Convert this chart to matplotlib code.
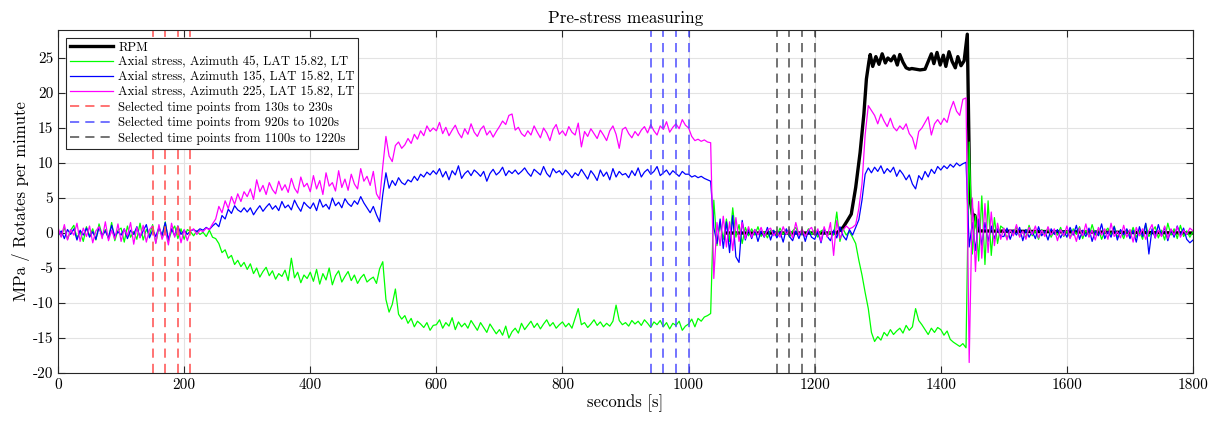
import numpy as np
import matplotlib
matplotlib.use("Agg")
import matplotlib.pyplot as plt

plt.rcParams['font.family'] = ['cmr10', 'DejaVu Serif']
plt.rcParams['axes.unicode_minus'] = False
plt.rcParams['mathtext.fontset'] = 'cm'

## sample times (5 s step) for the three stress channels
t = np.arange(0, 1805, 5)

## Axial stress, Azimuth 45
g = [
    0.3,-0.5,0.8,-0.9,0.4,1.1,-0.7,0.2,-1.2,0.9,-0.4,0.6,-1.0,1.3,-0.3,0.5,-0.8,1.5,-1.1,0.4,
    0.7,-1.3,1.0,-0.6,0.2,-0.9,1.4,-1.0,0.5,-0.3,1.2,-1.4,0.8,-0.5,1.6,-1.2,0.3,1.0,-0.8,0.6,
    -0.9,0.5,0.2,-0.4,0.3,-0.2,0.1,-0.5,0.4,-0.6,-0.8,-1.5,-2.8,-2.4,-3.6,-3.2,-4.5,-3.9,-4.8,-4.2,
    -5.2,-4.4,-5.8,-5.0,-6.3,-5.5,-4.9,-6.1,-5.4,-6.6,-5.8,-6.2,-5.3,-6.8,-3.6,-6.4,-5.6,-7.1,-6.0,-6.5,
    -5.6,-6.9,-5.2,-7.3,-5.8,-6.7,-5.0,-7.4,-6.1,-5.4,-7.0,-6.2,-5.5,-6.8,-6.0,-7.2,-6.4,-5.9,-7.0,-6.6,
    -6.3,-7.2,-5.1,-4.1,-9.5,-11.3,-10.2,-8.0,-11.6,-12.3,-11.8,-12.9,-12.2,-13.4,-12.6,-13.0,-13.5,-12.8,-13.9,-13.2,
    -13.1,-12.4,-13.6,-12.8,-13.3,-12.1,-13.8,-12.7,-13.4,-12.9,-13.6,-12.5,-13.2,-13.9,-12.8,-13.5,-14.2,-13.0,-13.7,-14.4,
    -13.8,-14.6,-13.3,-15.0,-14.1,-13.6,-14.3,-12.9,-13.8,-13.2,-12.6,-13.5,-12.9,-13.7,-13.0,-12.4,-13.3,-12.8,-13.6,-13.1,
    -12.7,-13.4,-12.9,-13.6,-12.2,-10.8,-13.1,-12.8,-13.5,-13.0,-12.4,-13.2,-12.7,-13.4,-12.9,-13.3,-12.6,-10.3,-12.5,-13.1,
    -12.8,-13.3,-12.5,-13.0,-12.6,-13.2,-12.4,-12.9,-13.5,-12.7,-13.1,-12.5,-13.4,-12.8,-13.7,-12.9,-13.2,-12.6,-13.9,-13.3,
    -13.0,-12.3,-13.4,-12.2,-12.6,-12.0,-11.8,-11.5,4.7,-1.8,1.5,-0.9,2.0,-1.2,3.6,-0.6,1.2,-1.5,0.8,-0.4,
    0.6,-0.3,0.9,-0.5,0.2,-0.7,0.4,0.3,-0.4,0.7,-0.2,0.5,-0.6,0.3,0.8,-0.3,0.2,-0.5,0.6,-0.2,
    0.4,-0.6,0.3,0.5,-0.4,0.2,-0.3,3.0,-1.2,0.6,-0.3,0.2,-0.6,-1.5,-3.9,-6.0,-8.5,-10.8,-14.2,-15.5,
    -14.8,-15.3,-14.2,-14.7,-13.8,-14.5,-14.0,-13.6,-14.3,-13.2,-13.9,-13.4,-10.8,-12.5,-13.1,-13.8,-14.5,-13.6,-14.2,-13.5,
    -13.8,-14.6,-14.0,-15.2,-15.6,-15.9,-16.2,-15.8,-16.4,13.0,-3.0,2.5,-4.0,5.3,-4.5,4.6,-3.2,2.2,-1.5,1.0,
    0.6,-0.8,0.4,-0.3,0.9,-0.5,0.2,-0.7,1.1,-0.4,0.3,-0.9,0.5,-0.2,0.7,-0.6,0.4,-0.3,0.8,-0.5,
    0.3,-0.7,0.6,-0.2,0.9,-0.8,0.4,-0.5,1.2,-0.3,0.6,-0.9,0.2,0.7,-0.4,1.0,-0.6,0.3,-0.8,0.5,
    -0.4,0.8,-0.6,0.3,-0.9,1.3,-0.5,0.2,0.9,-0.7,0.4,-1.0,1.4,-0.3,0.6,-0.8,1.1,-0.5,0.3,-0.6,
    0.2]

## Axial stress, Azimuth 135
b = [
    -0.4,0.3,-0.8,0.5,-0.2,0.6,-1.0,0.4,-0.3,0.7,-0.6,0.2,-0.9,0.8,-0.4,0.3,-0.7,1.1,-0.5,0.2,
    -0.3,0.6,-0.8,0.4,-0.2,0.9,-0.6,0.3,1.2,-0.7,0.4,-0.5,0.8,-0.3,1.5,-0.9,0.6,-0.4,1.0,-0.2,
    0.4,-0.2,0.3,0.5,0.2,0.6,0.4,0.8,0.5,1.0,1.4,0.9,2.5,2.0,3.4,2.8,3.9,3.3,3.0,3.6,
    3.0,3.6,2.6,3.3,3.9,3.1,3.7,4.2,3.4,3.9,3.2,4.5,3.6,4.0,3.3,4.7,3.8,3.1,4.4,3.9,
    3.5,4.3,3.2,4.8,3.7,4.1,3.4,5.0,3.9,4.4,3.6,4.9,4.2,3.8,4.6,4.1,5.2,4.3,3.6,2.9,
    3.8,2.6,1.6,5.5,8.6,6.4,7.5,6.8,7.9,7.2,6.9,7.6,7.3,8.1,7.5,8.4,8.0,8.7,8.3,8.9,
    8.4,9.2,8.0,8.8,7.6,8.9,8.3,9.6,7.8,8.5,8.9,8.2,9.0,8.6,8.1,8.8,7.4,8.5,9.1,8.3,
    8.7,9.4,8.2,8.9,8.5,9.0,8.4,8.8,9.3,8.6,8.1,9.1,8.7,8.3,9.5,8.5,8.0,9.2,8.6,8.9,
    8.3,9.0,8.5,7.9,8.6,8.2,9.1,8.4,7.7,8.9,8.3,7.5,9.0,8.1,8.7,7.6,9.2,8.0,8.8,8.3,
    8.5,7.9,8.9,8.2,9.3,8.0,8.7,9.1,8.4,8.8,9.5,8.2,8.6,9.0,8.3,8.9,8.5,8.1,8.8,8.4,
    8.4,8.0,8.2,7.9,8.1,7.8,7.6,7.4,0.8,-1.5,2.0,-2.2,1.6,-2.8,2.5,-3.4,-4.2,1.8,-1.0,0.6,
    -0.8,0.5,-1.2,0.3,-0.6,0.8,-1.0,0.4,-0.7,0.2,-1.3,0.6,-0.5,-1.1,0.3,-0.8,0.5,-1.2,0.4,-0.6,
    -0.9,0.3,-1.4,0.6,-0.5,-1.1,0.4,-0.7,0.9,-0.4,-1.0,0.5,-0.3,0.8,1.9,4.7,8.4,9.3,8.6,9.4,
    8.8,9.6,8.5,9.2,8.7,9.4,8.1,9.0,8.4,7.6,8.3,7.0,6.3,8.2,7.6,8.8,8.0,9.1,8.5,9.5,
    9.0,9.6,9.2,9.8,9.4,10.0,9.6,9.9,10.1,-2.0,1.5,-2.5,2.0,-1.8,1.5,-1.2,1.0,-0.8,0.6,-0.5,
    -0.5,0.7,-0.9,0.4,-0.3,0.8,-1.1,0.5,-0.6,0.2,-0.8,0.9,-0.4,0.3,-1.0,0.6,-0.2,0.5,-0.7,0.3,
    -0.6,0.8,-0.3,1.1,-0.9,0.4,-0.5,0.7,-1.2,0.3,-0.4,1.3,-0.8,0.2,-0.6,0.9,-1.0,0.5,-0.3,0.6,
    -0.8,0.4,-1.3,0.9,-0.5,1.4,-3.0,0.6,-0.7,1.2,-0.4,0.8,-1.1,0.5,-0.6,1.0,-0.3,0.7,-0.9,-1.4,
    -1.0]

## Axial stress, Azimuth 225
m = [
    0.8,-0.6,1.2,-1.0,0.5,-0.3,1.4,-1.2,0.7,-0.5,1.0,-1.4,0.3,0.9,-0.8,1.6,-1.1,0.4,-0.9,1.3,
    -1.2,0.6,-0.4,1.5,-1.6,0.8,-0.7,1.1,-1.3,0.5,1.0,-1.5,1.2,-0.9,0.4,-1.7,1.4,-0.6,1.0,-1.4,
    0.5,-1.1,0.3,0.6,-0.2,0.4,0.2,0.7,0.5,1.3,2.0,3.8,2.9,4.6,3.5,5.2,4.1,5.6,4.5,5.9,
    5.2,6.3,4.8,7.6,5.9,6.8,5.5,7.2,6.2,5.6,7.4,6.1,6.9,5.8,7.8,6.4,5.7,8.0,6.6,7.1,
    5.9,8.2,6.3,7.5,5.5,8.6,6.7,7.2,6.0,8.9,6.5,7.7,6.1,8.4,7.0,6.3,9.2,7.4,8.1,6.8,
    8.8,5.6,4.8,9.5,13.8,11.0,10.2,12.5,13.0,12.1,12.6,13.5,12.8,14.1,13.4,14.6,13.9,15.3,14.5,15.0,
    14.6,15.8,14.2,15.1,13.9,14.7,15.4,14.3,13.6,14.9,14.1,15.6,14.4,13.8,14.8,15.3,14.0,14.6,13.7,14.5,
    15.2,16.0,15.5,16.8,17.0,14.7,15.1,14.2,13.8,14.6,14.0,15.3,14.4,13.6,15.0,14.3,13.2,14.8,15.5,14.1,
    14.6,13.9,15.2,14.4,14.0,15.7,12.3,14.5,13.8,14.9,14.2,13.5,14.7,14.0,13.2,14.6,15.3,14.1,12.1,14.8,
    15.1,14.2,13.6,14.5,13.9,14.7,15.2,14.3,15.5,14.6,14.0,15.3,14.8,15.9,14.4,15.1,15.6,14.9,16.2,15.4,
    15.0,13.8,13.2,13.4,13.1,13.3,13.0,12.9,-6.5,1.5,-1.8,2.4,-2.0,1.6,-2.5,2.2,-1.2,1.5,-0.8,0.9,
    -0.6,0.5,-0.3,0.8,-0.5,0.4,0.7,-0.4,0.3,-0.6,0.9,-0.2,0.5,-0.7,1.5,-0.3,0.6,-0.5,0.4,0.8,
    -0.3,0.6,-1.2,0.9,-0.6,1.5,-3.2,1.8,-0.8,0.4,1.0,0.6,0.8,1.2,3.5,7.0,14.0,18.2,17.5,16.8,
    15.6,17.0,16.0,15.2,16.4,15.1,14.6,15.3,14.8,15.6,14.2,13.6,12.0,14.5,15.0,15.8,16.6,14.0,15.6,16.2,
    15.5,16.4,15.8,17.6,18.8,17.4,16.8,19.1,19.3,-18.5,5.0,-5.5,4.5,-3.6,4.2,-2.8,3.0,-1.8,1.4,-0.9,
    0.7,-1.0,0.5,-0.4,1.2,-0.6,0.3,-0.9,0.8,-0.2,1.0,-0.7,0.4,-0.5,0.9,-0.3,0.6,-1.1,0.5,-0.4,
    1.0,-0.8,0.3,-1.2,0.7,-0.4,1.3,-0.6,0.4,-1.0,0.8,-0.3,0.6,-0.9,1.4,-0.5,0.2,-0.7,1.1,-0.6,
    0.5,-1.3,0.8,-0.4,0.6,-0.9,0.3,1.2,-0.7,0.4,-0.5,1.0,-0.8,0.6,-0.3,0.9,-0.6,0.4,-0.2,0.7,
    0.3]

## RPM (logged from ~1060 s on)
rpm_t = [1060, 1235, 1245, 1252, 1258, 1265, 1272, 1278, 1282, 1286, 1288, 1292, 1297, 1302,
         1307, 1312, 1316, 1321, 1326, 1331, 1335, 1340, 1345, 1350, 1354, 1367, 1375,
         1380, 1385, 1389, 1394, 1399, 1404, 1408, 1413, 1418, 1423, 1427, 1432, 1437,
         1442, 1446, 1450, 1454, 1459, 1800]
rpm_v = [0, 0, 0.8, 1.8, 2.7, 6.5, 11.5, 17.0, 22.0, 24.5, 25.5, 23.8, 25.2, 24.1,
         25.6, 24.3, 25.0, 24.6, 25.3, 24.0, 25.5, 24.4, 23.6, 23.4, 23.5, 23.3, 23.4,
         24.5, 25.6, 24.2, 25.8, 24.0, 25.4, 23.8, 25.9, 24.5, 23.6, 25.2, 23.9, 24.6,
         28.4, 5.0, 2.7, 2.5, 0.3, 0]

## selected time points
sel_red = [150, 170, 190, 210]
sel_blue = [940, 960, 980, 1000]
sel_black = [1140, 1160, 1180, 1200]

fig = plt.figure(figsize=(12.17, 4.21), dpi=100)
ax = fig.add_axes([0.0477, 0.114, 0.9326, 0.8147])

ax.plot(rpm_t, rpm_v, color='k', lw=2.4, label='RPM')
ax.plot(t, g, color=(0, 1, 0), lw=0.9, label='Axial stress, Azimuth 45, LAT 15.82, LT')
ax.plot(t, b, color=(0, 0, 1), lw=0.9, label='Axial stress, Azimuth 135, LAT 15.82, LT')
ax.plot(t, m, color=(1, 0, 1), lw=0.9, label='Axial stress, Azimuth 225, LAT 15.82, LT')

for vals, col, lab in [(sel_red, (1, 0.3, 0.3), 'Selected time points from 130s to 230s'),
                       (sel_blue, (0.3, 0.3, 1), 'Selected time points from 920s to 1020s'),
                       (sel_black, (0.3, 0.3, 0.3), 'Selected time points from 1100s to 1220s')]:
    for i, v in enumerate(vals):
        ax.axvline(v, color=col, lw=1.1, ls=(0, (6, 4)), label=lab if i == 0 else None)

ax.set_xlim(0, 1800)
ax.set_ylim(-20, 29)
ax.set_xticks(np.arange(0, 1801, 200))
ax.set_yticks(np.arange(-20, 26, 5))
ax.grid(True, color='#e3e3e3', lw=0.8)
ax.set_axisbelow(True)
ax.tick_params(direction='in', top=True, right=True, length=5, width=0.8,
               labelsize=11, colors='#262626', labelcolor='k')
for s in ax.spines.values():
    s.set_linewidth(0.8)
    s.set_color('#262626')

ax.set_title('Pre-stress measuring', fontsize=12.3, pad=5)
ax.set_xlabel('seconds [s]', fontsize=12, labelpad=2)
ax.set_ylabel('MPa / Rotates per mimute', fontsize=12, labelpad=2)

leg = ax.legend(loc='upper left', fontsize=9.2, fancybox=False, framealpha=1,
                edgecolor='#262626', labelspacing=0.22, handlelength=3.4,
                handletextpad=0.4, borderpad=0.3, borderaxespad=0.6)
leg.get_frame().set_linewidth(0.8)

plt.savefig('out.png', dpi=100)
